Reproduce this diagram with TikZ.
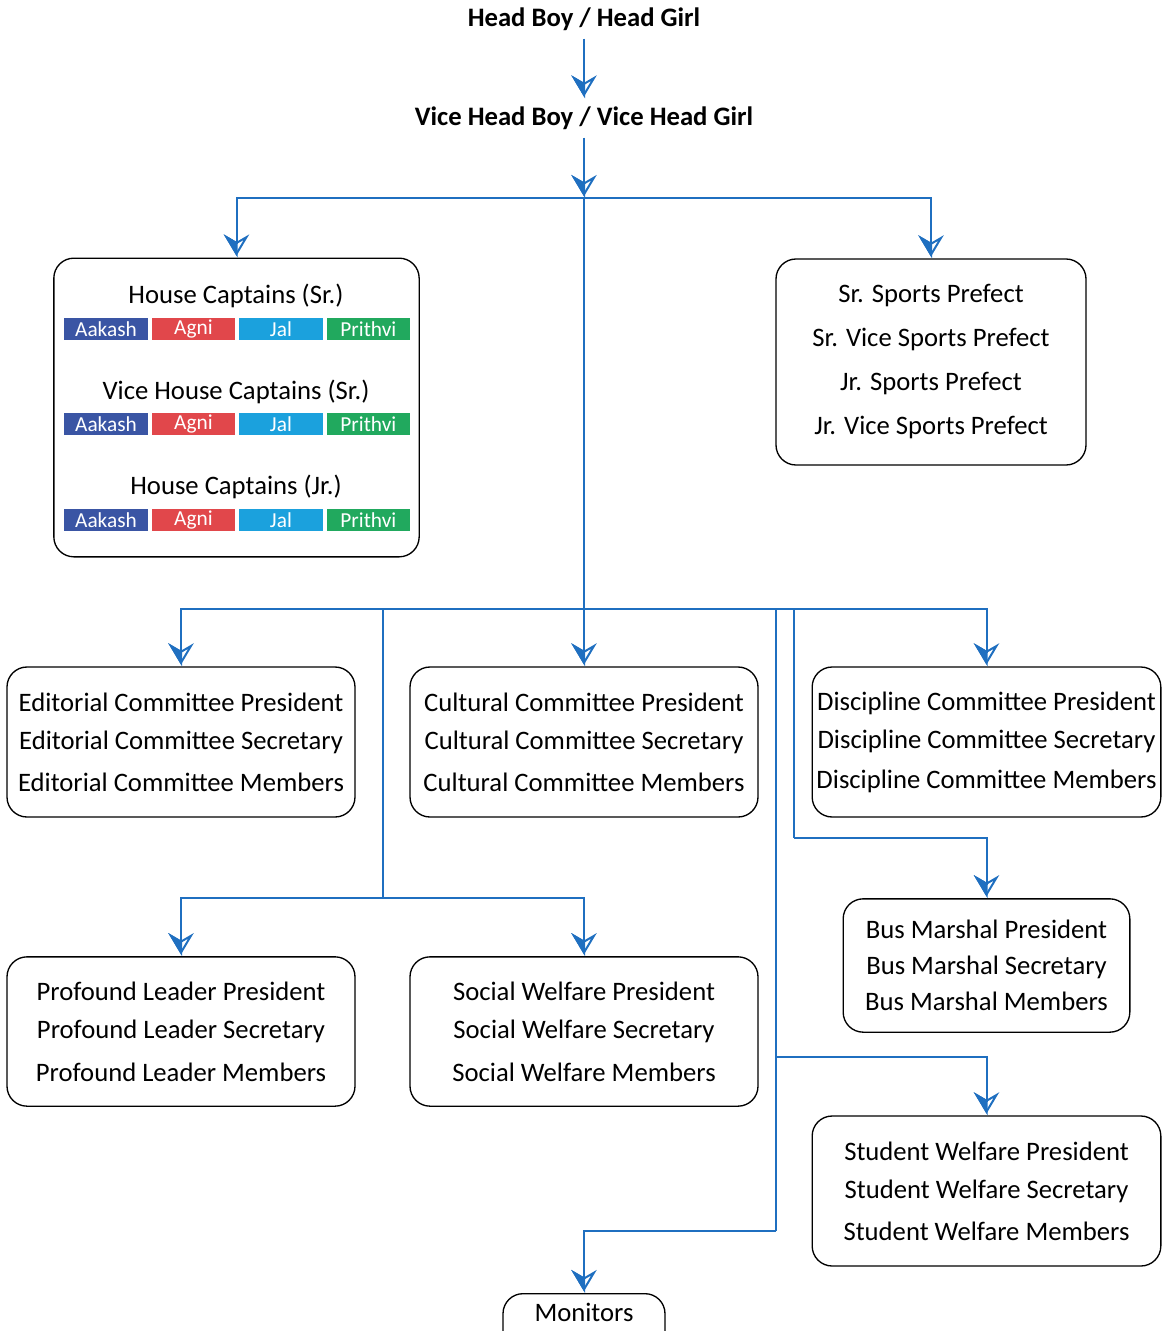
\documentclass[tikz,border=0pt]{standalone}
\usepackage{fontspec}
\setmainfont{Carlito}
\usepackage{tikz}
\usetikzlibrary{arrows.meta,positioning}
\definecolor{linkblue}{HTML}{1F6FC0}
\definecolor{aakash}{HTML}{3A55A4}
\definecolor{agni}{HTML}{E1474B}
\definecolor{jal}{HTML}{1BA1DD}
\definecolor{prithvi}{HTML}{21A95E}

\begin{document}
\begin{tikzpicture}
[x=0.75pt, y=-0.75pt, font=\fontsize{20}{28.5}\selectfont,
% STYLES
% The headpost style is used for the two posts at the top
headpost/.style={inner sep=0pt, minimum height=29pt, font=\fontsize{20}{22}\selectfont\bfseries},
% The council style is used to draw the boxes of each body
council/.style={rectangle, draw, line width=1pt, rounded corners=15pt, align=center, inner sep=0pt},
% The house style is used to draw the coloured house tags
house/.style={rectangle, fill=#1, text=white, minimum width=62.5pt, minimum height=16.5pt, inner sep=0pt, font=\fontsize{16}{18}\selectfont},
% The link style is used to draw the connectors
link/.style={linkblue, line width=1.5pt, -{Stealth[open, length=16pt, width=19pt, inset=5.5pt, sep=-16pt]Stealth[harpoon, swap, length=16pt, width=19pt, inset=5.5pt]}},
plain/.style={linkblue, line width=1.5pt}]

\useasboundingbox (0,0) rectangle (1168,1331);

% Draw posts
\node [headpost] (head) at (584,19) {Head Boy / Head Girl};
\node [headpost] (vice) at (584,118) {Vice Head Boy / Vice Head Girl};

\node [council, minimum width=274pt, minimum height=224pt] (captains) at (236.5,407.5) {};
\node [council, minimum width=232.5pt, minimum height=154.5pt] (sports) at (931,362)
  {Sr. Sports Prefect\\[4.5pt]Sr. Vice Sports Prefect\\[4.5pt]Jr. Sports Prefect\\[4.5pt]Jr. Vice Sports Prefect};

\node [council, minimum width=261pt, minimum height=112.5pt] (editorial) at (181,742)
  {Editorial Committee President\\Editorial Committee Secretary\\[3pt]Editorial Committee Members};
\node [council, minimum width=261pt, minimum height=112.5pt] (cultural) at (584,742)
  {Cultural Committee President\\Cultural Committee Secretary\\[3pt]Cultural Committee Members};
\node [council, minimum width=261.5pt, minimum height=112.5pt] (discipline) at (986.5,742)
  {Discipline Committee President\\Discipline Committee Secretary\\[1.5pt]Discipline Committee Members};

\node [council, minimum width=215pt, minimum height=100pt] (bus) at (986.5,965.5)
  {Bus Marshal President\\[-1.5pt]Bus Marshal Secretary\\[-1.5pt]Bus Marshal Members};

\node [council, minimum width=261pt, minimum height=112pt] (profound) at (181,1031.5)
  {Profound Leader President\\Profound Leader Secretary\\[3.5pt]Profound Leader Members};
\node [council, minimum width=261pt, minimum height=112pt] (welfare) at (584,1031.5)
  {Social Welfare President\\Social Welfare Secretary\\[3.5pt]Social Welfare Members};

\node [council, minimum width=261.5pt, minimum height=112.5pt] (student) at (986.5,1191)
  {Student Welfare President\\Student Welfare Secretary\\[3pt]Student Welfare Members};

\node [council, anchor=north, minimum width=121.5pt, inner ysep=7pt, text height=14pt, text depth=20pt] (monitors) at (584,1293) {Monitors};

%%%%%%%%%%%%%%%
% House captains

% senior captains
\node (sr-title) at (236,296) {House Captains (Sr.)};
\node [house=aakash] (sr-aakash) at (106,329) {Aakash};
\node [house=agni, right=2.7pt of sr-aakash] (sr-agni) {Agni};
\node [house=jal, right=2.7pt of sr-agni] (sr-jal) {Jal};
\node [house=prithvi, right=2.7pt of sr-jal] (sr-prithvi) {Prithvi};

% vice captains
\node (vc-title) at (236,392) {Vice House Captains (Sr.)};
\node [house=aakash] (vc-aakash) at (106,424) {Aakash};
\node [house=agni, right=2.7pt of vc-aakash] (vc-agni) {Agni};
\node [house=jal, right=2.7pt of vc-agni] (vc-jal) {Jal};
\node [house=prithvi, right=2.7pt of vc-jal] (vc-prithvi) {Prithvi};

% junior captains
\node (jr-title) at (236,487) {House Captains (Jr.)};
\node [house=aakash] (jr-aakash) at (106,520) {Aakash};
\node [house=agni, right=2.7pt of jr-aakash] (jr-agni) {Agni};
\node [house=jal, right=2.7pt of jr-agni] (jr-jal) {Jal};
\node [house=prithvi, right=2.7pt of jr-jal] (jr-prithvi) {Prithvi};

%%%%%%%%%%%%%%%
% Branch points
\coordinate (split-top) at (584,198);
\coordinate (split-mid) at (584,609);
\coordinate (leader-top) at (383,609);
\coordinate (leader-bot) at (383,898);
\coordinate (bus-top) at (794,609);
\coordinate (bus-bot) at (794,838);
\coordinate (mon-top) at (776,609);
\coordinate (mon-bot) at (776,1231);
\coordinate (welfare-split) at (776,1057);

% Draw the links between posts
\draw [link] (head) -- (vice);
\draw [link] (vice) -- (split-top);
\draw [link] (split-top) -| (captains.north);
\draw [link] (split-top) -| (sports.north);
\draw [plain] (split-top) -- (split-mid);
\draw [link] (split-mid) -| (editorial.north);
\draw [link] (split-mid) -- (cultural.north);
\draw [link] (split-mid) -| (discipline.north);

\draw [plain] (leader-top) -- (leader-bot);
\draw [link] (leader-bot) -| (profound.north);
\draw [link] (leader-bot) -| (welfare.north);

\draw [plain] (bus-top) -- (bus-bot);
\draw [link] (bus-bot) -| (bus.north);

\draw [plain] (mon-top) -- (mon-bot);
\draw [link] (welfare-split) -| (student.north);
\draw [link] (mon-bot) -| (monitors.north);

\end{tikzpicture}
\end{document}
